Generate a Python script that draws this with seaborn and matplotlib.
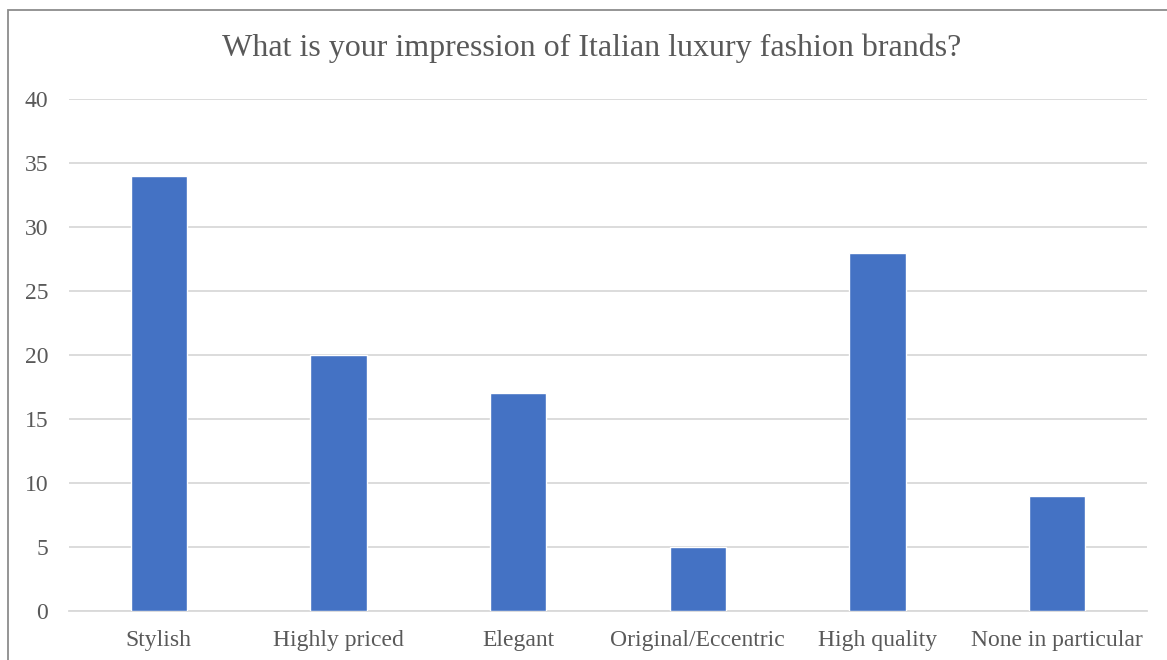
import matplotlib
matplotlib.use("Agg")
import matplotlib.pyplot as plt
from matplotlib.patches import Rectangle
import seaborn as sns
import pandas as pd

categories = ["Stylish", "Highly priced", "Elegant", "Original/Eccentric",
              "High quality", "None in particular"]
counts = [34, 20, 17, 5, 28, 9]
y_ticks = [0, 5, 10, 15, 20, 25, 30, 35, 40]
title = "What is your impression of Italian luxury fashion brands?"

sns.set_theme(style="white")
plt.rcParams["font.family"] = ["Liberation Serif", "DejaVu Serif"]

df = pd.DataFrame({"category": categories, "count": counts})

fig = plt.figure(figsize=(11.67, 6.6), dpi=100)
ax = fig.add_axes([69 / 1167, 1 - 611 / 660, 1078 / 1167, 512 / 660])

sns.barplot(data=df, x="category", y="count", color="#4472C4",
            saturation=1, width=0.315, ax=ax, zorder=3)

ax.set_ylim(0, 40)
ax.set_yticks(y_ticks)
ax.set_xlim(-0.5, len(categories) - 0.5)
ax.yaxis.grid(True, color="#D9D9D9", linewidth=1.3, zorder=0)
ax.set_axisbelow(True)
for side in ["top", "right", "left"]:
    ax.spines[side].set_visible(False)
ax.spines["bottom"].set_color("#D9D9D9")
ax.spines["bottom"].set_linewidth(1.3)
ax.set_xlabel("")
ax.set_ylabel("")
ax.tick_params(axis="both", length=0, labelsize=17, colors="#595959")
ax.tick_params(axis="y", pad=15)
ax.tick_params(axis="x", pad=13.5)

fig.text(592 / 1167, 1 - 48 / 660, title, ha="center", va="center",
         fontsize=23, color="#595959")

# outer chart frame (top and left edges visible)
fig.patches.append(Rectangle((7.5 / 1167, -0.1), 1.2, (660 - 10.5) / 660 + 0.1,
                             transform=fig.transFigure, fill=False,
                             edgecolor="#8C8C8C", linewidth=1.3))

fig.savefig("out.png", dpi=100)
